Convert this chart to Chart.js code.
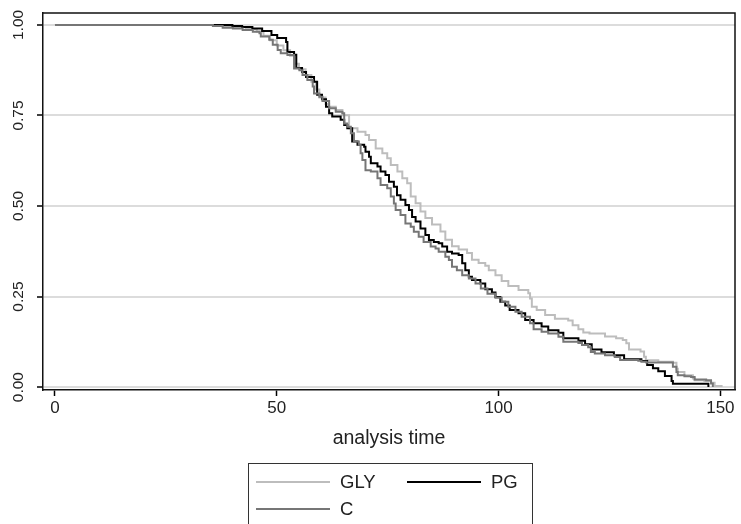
<!DOCTYPE html>
<html>
<head>
<meta charset="utf-8">
<script src="https://cdn.jsdelivr.net/npm/chart.js@4"></script>
<style>
  body { margin: 0; background: #fff; }
  #wrap { position: relative; width: 741px; height: 524px; }
  #legend {
    position: absolute; left: 248px; top: 463px; width: 285px; height: 75px;
    border: 1.5px solid #333; box-sizing: border-box;
    font: 18.5px "Liberation Sans", Arial, sans-serif; color: #222;
  }
  .item { position: absolute; display: flex; align-items: center; height: 20px; }
  .swatch { width: 74px; height: 0; border-top: 2px solid; margin-right: 10px; }
</style>
</head>
<body>
<div id="wrap">
  <canvas id="km" width="741" height="524"></canvas>
  <div id="legend"></div>
</div>
<script>
// Kaplan-Meier curves, values (time, survival after the step)
const seriesNames = ["GLY", "PG", "C"];

const glyTime = [0, 37.0, 40.0, 43.0, 45.5, 47.0, 48.5, 50.0, 51.5, 53.0, 54.0, 55.0, 56.5, 57.8, 58.8, 59.6,
  61.0, 61.8, 63.3, 64.8, 66.3, 68.2, 70.0, 70.8, 72.3, 73.8, 74.9, 75.7, 77.2, 78.3, 79.4, 80.2, 81.3,
  82.4, 83.5, 85.0, 86.9, 88.0, 89.5, 91.0, 92.9, 94.0, 95.5, 97.0, 97.8, 99.3, 100.7, 102.2, 104.5,
  106.7, 107.1, 107.5, 108.6, 110.5, 112.7, 115.7, 116.7, 118.0, 119.1, 120.5, 124.0, 126.5, 128.0,
  128.8, 129.4, 132.0, 132.8, 133.2, 136.0, 139.3, 140.1, 140.4, 141.9, 143.8, 144.2, 146.4, 147.9,
  148.7, 150.5];
const glySurv = [1, 0.997, 0.994, 0.989, 0.982, 0.970, 0.958, 0.943, 0.930, 0.915, 0.893, 0.878, 0.862, 0.843, 0.822, 0.800,
  0.782, 0.774, 0.765, 0.751, 0.715, 0.705, 0.696, 0.682, 0.659, 0.646, 0.632, 0.613, 0.595, 0.577, 0.563, 0.526, 0.508,
  0.485, 0.467, 0.449, 0.430, 0.407, 0.389, 0.380, 0.370, 0.352, 0.343, 0.335, 0.323, 0.309, 0.293, 0.279, 0.268,
  0.259, 0.245, 0.222, 0.213, 0.199, 0.189, 0.184, 0.171, 0.160, 0.151, 0.148, 0.140, 0.135, 0.130,
  0.121, 0.104, 0.098, 0.084, 0.074, 0.070, 0.067, 0.051, 0.042, 0.033, 0.024, 0.019, 0.017, 0.012,
  0.003, 0.003];

const pgTime = [0, 40.0, 42.2, 44.5, 46.7, 48.8, 50.1, 52.1, 52.4, 53.9, 54.4, 55.7, 56.6, 58.4, 59.1, 60.2,
  61.1, 61.8, 62.5, 64.4, 65.2, 65.9, 67.0, 68.2, 69.7, 70.0, 70.8, 71.2, 72.7, 73.4, 74.5, 75.3, 76.4,
  77.1, 77.9, 79.0, 79.8, 80.5, 81.3, 82.4, 83.5, 84.3, 85.4, 86.5, 87.3, 88.4, 89.5, 91.0, 91.8, 92.5,
  93.3, 94.0, 95.9, 97.0, 98.5, 99.3, 100.4, 101.5, 102.5, 104.5, 106.0, 107.9, 109.7, 111.2, 113.5,
  114.6, 118.0, 119.5, 121.0, 123.2, 126.0, 128.3, 132.2, 133.5, 134.8, 136.0, 137.5, 139.0, 139.3, 147.3];
const pgSurv = [1, 0.997, 0.994, 0.990, 0.983, 0.972, 0.964, 0.953, 0.925, 0.918, 0.881, 0.870, 0.856, 0.843, 0.807, 0.795,
  0.774, 0.756, 0.747, 0.738, 0.724, 0.715, 0.678, 0.669, 0.664, 0.650, 0.636, 0.618, 0.609, 0.595, 0.586, 0.567, 0.553,
  0.530, 0.517, 0.503, 0.489, 0.470, 0.457, 0.438, 0.420, 0.406, 0.401, 0.397, 0.388, 0.374, 0.369, 0.365, 0.342, 0.323,
  0.305, 0.296, 0.286, 0.270, 0.261, 0.249, 0.236, 0.225, 0.213, 0.204, 0.185, 0.176, 0.167, 0.157, 0.150,
  0.135, 0.128, 0.118, 0.104, 0.096, 0.088, 0.077, 0.072, 0.061, 0.052, 0.044, 0.031, 0.017, 0.009, 0];

const cTime = [0, 35.6, 37.8, 40.1, 42.3, 44.6, 46.1, 46.4, 48.3, 49.1, 50.2, 50.9, 52.4, 53.9, 55.1, 55.8,
  56.9, 58.1, 58.4, 59.6, 60.3, 61.8, 63.3, 64.8, 65.2, 65.9, 66.7, 67.4, 68.5, 68.9, 69.3, 70.0, 71.2,
  72.7, 73.4, 74.9, 75.7, 76.4, 76.8, 77.9, 79.0, 80.2, 80.9, 82.0, 83.1, 84.7, 85.8, 86.5, 88.0, 88.8,
  89.5, 90.6, 91.8, 93.3, 94.8, 96.0, 97.5, 99.3, 100.7, 102.2, 103.8, 105.2, 107.1, 107.9, 109.7, 111.2,
  113.5, 114.6, 118.0, 118.8, 120.2, 120.8, 121.7, 124.0, 126.2, 127.4, 131.5, 132.2, 133.3, 139.3, 140.1,
  140.4, 141.9, 143.4, 144.2, 146.8, 147.9, 148.3];
const cSurv = [1, 0.997, 0.992, 0.990, 0.986, 0.981, 0.977, 0.968, 0.959, 0.945, 0.931, 0.922, 0.917, 0.880, 0.875, 0.862,
  0.848, 0.830, 0.811, 0.802, 0.790, 0.770, 0.760, 0.756, 0.728, 0.719, 0.701, 0.678, 0.669, 0.646, 0.627, 0.599, 0.595,
  0.577, 0.558, 0.549, 0.526, 0.507, 0.489, 0.475, 0.452, 0.443, 0.429, 0.415, 0.401, 0.388, 0.383, 0.374, 0.360, 0.351,
  0.332, 0.323, 0.309, 0.300, 0.286, 0.272, 0.258, 0.247, 0.236, 0.222, 0.208, 0.194, 0.176, 0.160, 0.153, 0.148,
  0.139, 0.125, 0.122, 0.116, 0.110, 0.097, 0.093, 0.088, 0.083, 0.075, 0.073, 0.070, 0.068, 0.056, 0.042,
  0.033, 0.030, 0.028, 0.021, 0.019, 0.010, 0];

const xTicks = [0, 50, 100, 150];
const yTicks = [0, 0.25, 0.5, 0.75, 1];

const colors = { GLY: "#bdbdbd", PG: "#000000", C: "#767676" };
const FONT = "'Liberation Sans', Arial, sans-serif";

function toPoints(t, s) {
  return t.map((v, i) => ({ x: v, y: s[i] }));
}

// first dataset is painted last: C on top, then PG, GLY underneath
const datasets = [
  { label: "C", data: toPoints(cTime, cSurv) },
  { label: "PG", data: toPoints(pgTime, pgSurv) },
  { label: "GLY", data: toPoints(glyTime, glySurv) }
].map(d => Object.assign(d, {
  borderColor: colors[d.label],
  borderWidth: 2,
  pointRadius: 0,
  stepped: true,
  fill: false
}));

// top and right sides of the plot frame
const frame = {
  id: "frame",
  afterDraw(chart) {
    const { ctx, chartArea: a } = chart;
    ctx.save();
    ctx.strokeStyle = "#111";
    ctx.lineWidth = 1.5;
    ctx.beginPath();
    ctx.moveTo(a.left, a.top);
    ctx.lineTo(a.right, a.top);
    ctx.lineTo(a.right, a.bottom);
    ctx.stroke();
    ctx.restore();
  }
};

new Chart(document.getElementById("km"), {
  type: "line",
  data: { datasets },
  plugins: [frame],
  options: {
    responsive: false,
    animation: false,
    devicePixelRatio: 1,
    layout: { padding: { top: 13, right: 6, bottom: 74, left: 0 } },
    plugins: { legend: { display: false }, tooltip: { enabled: false } },
    scales: {
      x: {
        type: "linear",
        min: -2.7,
        max: 153.3,
        afterBuildTicks: s => { s.ticks = xTicks.map(v => ({ value: v })); },
        afterFit: s => { s.height = 60; },
        ticks: { font: { family: FONT, size: 17 }, color: "#222", padding: 2, maxRotation: 0 },
        grid: { drawOnChartArea: false, tickLength: 6, tickColor: "#000", tickWidth: 1.5 },
        border: { color: "#111", width: 1.5 },
        title: {
          display: true, text: "analysis time", color: "#222",
          font: { family: FONT, size: 19.5 }, padding: { top: 0, bottom: 0 }
        }
      },
      y: {
        min: -0.008,
        max: 1.033,
        afterBuildTicks: s => { s.ticks = yTicks.map(v => ({ value: v })); },
        afterFit: s => { s.width = 43; },
        ticks: {
          font: { family: FONT, size: 15.5 }, color: "#222",
          minRotation: 90, maxRotation: 90, crossAlign: "center", padding: 3,
          callback: v => v.toFixed(2)
        },
        grid: { color: "#dcdcdc", lineWidth: 2, tickLength: 6, tickColor: "#000", tickWidth: 1.5 },
        border: { color: "#111", width: 1.5 }
      }
    }
  }
});

// legend box below the axis title
const legendPos = { GLY: [7, 8], PG: [158, 8], C: [7, 35] };
const legendEl = document.getElementById("legend");
seriesNames.forEach(name => {
  const item = document.createElement("div");
  item.className = "item";
  item.style.left = legendPos[name][0] + "px";
  item.style.top = legendPos[name][1] + "px";
  item.innerHTML = '<span class="swatch" style="border-color:' + colors[name] + '"></span>' + name;
  legendEl.appendChild(item);
});
</script>
</body>
</html>
